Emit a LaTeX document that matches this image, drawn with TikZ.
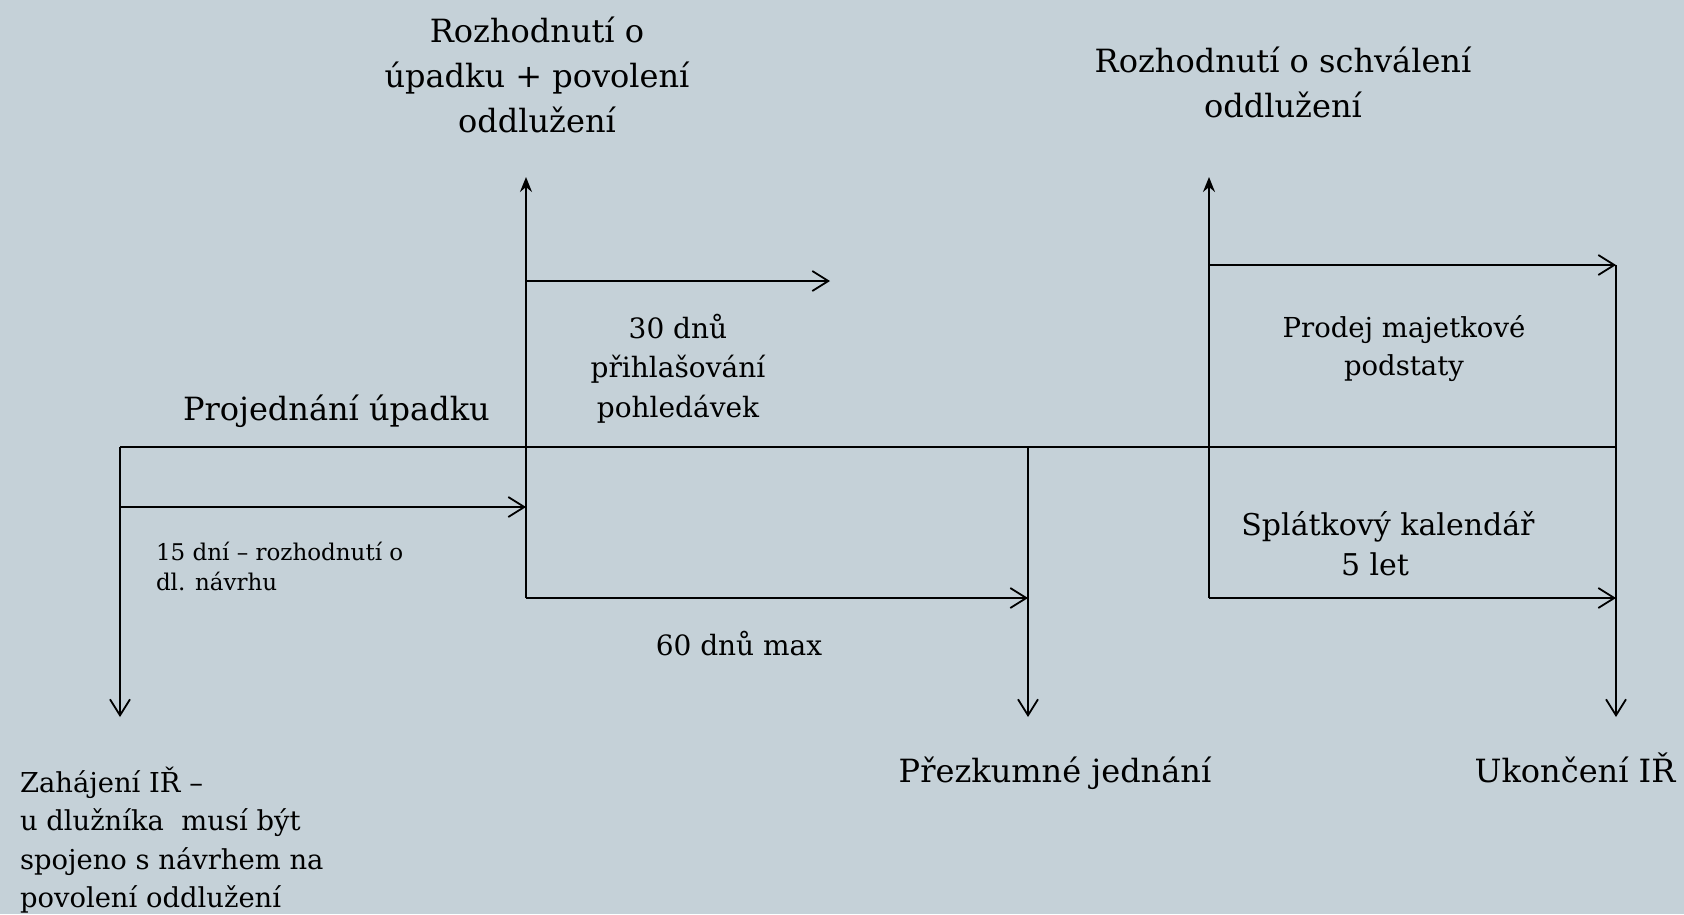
\documentclass[tikz,border=0pt]{standalone}
\usepackage{fontspec}
\setmainfont{DejaVu Serif}
\usetikzlibrary{arrows.meta}
\definecolor{bg}{RGB}{197,209,216}
\newcommand\mylines[2]{\begin{tabular}[t]{@{}#1@{}}#2\end{tabular}}
\begin{document}
\begin{tikzpicture}[x=1pt,y=-1pt, line width=2pt,
  barb/.style={-{Straight Barb[length=16pt,width=20pt,line width=1.8pt]}},
  uparr/.style={-{Stealth[length=15pt,width=12pt,inset=5pt]}},
  lbl/.style={inner sep=0pt, anchor=base},
  big/.style={font=\fontsize{32}{45}\selectfont},
  txt/.style 2 args={font=\fontsize{#1}{#2}\selectfont}]
\fill[bg] (0,0) rectangle (1684,914);
\useasboundingbox (0,0) rectangle (1684,914);
% coordinates
\coordinate (A) at (120,447);
\coordinate (Ad) at (120,717);
\coordinate (A2) at (120,507);
\coordinate (B) at (526,447);
\coordinate (Bt) at (526,177);
\coordinate (Bm) at (526,281);
\coordinate (Bm2) at (830,281);
\coordinate (B15) at (526,507);
\coordinate (Bb) at (526,598);
\coordinate (C) at (1028,447);
\coordinate (Cb) at (1028,598);
\coordinate (Cd) at (1028,717);
\coordinate (Dt) at (1209,177);
\coordinate (Dm) at (1209,265);
\coordinate (Db) at (1209,598);
\coordinate (E) at (1616,447);
\coordinate (Em) at (1616,265);
\coordinate (Eb) at (1616,598);
\coordinate (Ed) at (1616,717);
% connectors
\draw (A) -- (E);
\draw[barb] (A) -- (Ad);
\draw[barb] (A2) -- (B15);
\draw[uparr] (Bb) -- (Bt);
\draw[barb] (Bm) -- (Bm2);
\draw[barb] (Bb) -- (Cb);
\draw[barb] (C) -- (Cd);
\draw[uparr] (Db) -- (Dt);
\draw[barb] (Dm) -- (Em);
\draw[barb] (Db) -- (Eb);
\draw[barb] (Em) -- (Ed);
% labels
\node[lbl, big] (r1) at (537,42) {\mylines{c}{Rozhodnutí o\\úpadku + povolení\\oddlužení}};
\node[lbl, big, anchor=base west] (proj) at (182,420) {Projednání úpadku};
\node[lbl, txt={28}{39.5}] (d30) at (678,338) {\mylines{c}{30 dnů\\přihlašování\\pohledávek}};
\node[lbl, txt={23}{30}, anchor=base west] (d15) at (155,560) {\mylines{l}{15 dní – rozhodnutí o\\dl. návrhu}};
\node[lbl, txt={28}{40}] (d60) at (739,655) {60 dnů max};
\node[lbl, txt={27.4}{38.5}, anchor=base west] (zah) at (19,792) {\mylines{l}{Zahájení IŘ –\\u dlužníka\ \ musí být\\spojeno s návrhem na\\povolení oddlužení}};
\node[lbl, big] (prez) at (1055,782) {Přezkumné jednání};
\node[lbl, big] (uk) at (1575,782) {Ukončení IŘ};
\node[lbl, big] (r2) at (1283,72) {\mylines{c}{Rozhodnutí o schválení\\oddlužení}};
\node[lbl, txt={27.5}{38}] (prodej) at (1404,337) {\mylines{c}{Prodej majetkové\\podstaty}};
\node[lbl, txt={30}{40}] (spl) at (1388,535) {\mylines{c}{Splátkový kalendář\\5 let\hspace*{26pt}}};
\end{tikzpicture}
\end{document}
